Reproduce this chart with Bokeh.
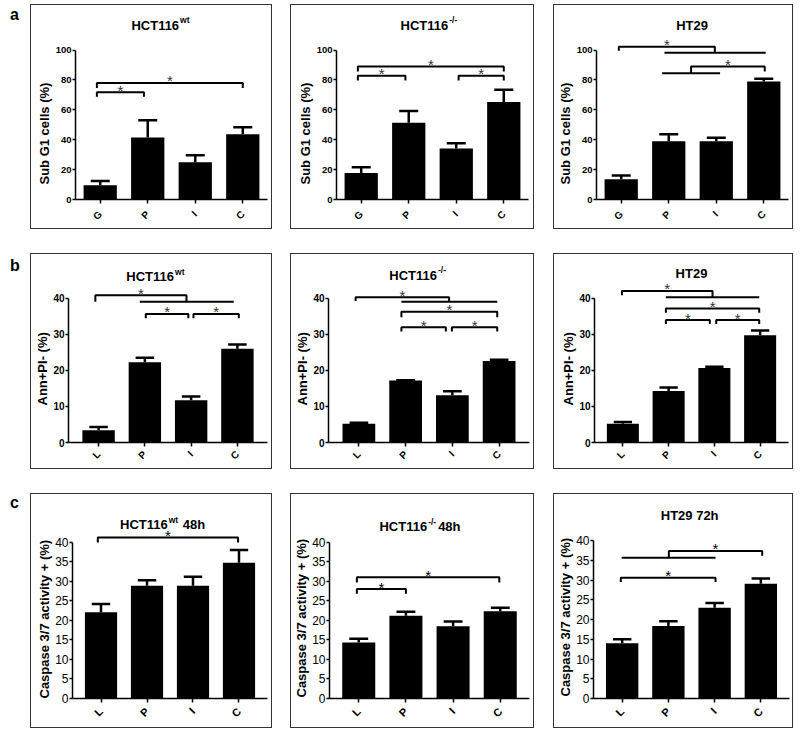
import math
from bokeh.plotting import figure
from bokeh.models import FactorRange, Range1d, FixedTicker, Div, Spacer, Title
from bokeh.layouts import row, column
from bokeh.embed import file_html
from bokeh.resources import INLINE
from bokeh.core.properties import value

# ---------------- data ----------------
groups_a = ["G", "P", "I", "C"]
groups_bc = ["L", "P", "I", "C"]

# row a: Sub G1 cells (%)
subg1_wt = [9.5, 41.5, 25.0, 43.7]
subg1_wt_err = [2.9, 11.5, 4.6, 4.6]
subg1_ko = [17.7, 51.4, 34.2, 65.3]
subg1_ko_err = [3.9, 7.8, 3.5, 8.2]
subg1_ht29 = [13.5, 38.9, 39.0, 79.0]
subg1_ht29_err = [2.6, 4.8, 2.3, 1.8]

# row b: Ann+PI- (%)
ann_wt = [3.4, 22.3, 11.7, 26.0]
ann_wt_err = [0.9, 1.2, 1.1, 1.2]
ann_ko = [5.2, 17.2, 13.1, 22.6]
ann_ko_err = [0.3, 0.1, 1.1, 0.4]
ann_ht29 = [5.2, 14.3, 20.7, 29.8]
ann_ht29_err = [0.5, 1.0, 0.3, 1.3]

# row c: Caspase 3/7 activity + (%)
casp_wt = [22.1, 28.9, 28.9, 34.8]
casp_wt_err = [2.1, 1.4, 2.3, 3.3]
casp_ko = [14.3, 21.2, 18.5, 22.3]
casp_ko_err = [1.0, 1.0, 1.2, 0.9]
casp_ht29 = [14.0, 18.4, 23.0, 29.1]
casp_ht29_err = [1.0, 1.2, 1.2, 1.3]

ticks_a = [0, 20, 40, 60, 80, 100]
ticks_b = [0, 10, 20, 30, 40]
ticks_c = [0, 5, 10, 15, 20, 25, 30, 35, 40]

label_a = "Sub G1 cells (%)"
label_b = "Ann+PI- (%)"
label_c = "Caspase 3/7 activity + (%)"

# significance brackets: (from, to, height, left drop, right drop, star)
# from / to in category units (category i is centred on i + 0.5)
sig_a_wt = [(0.43, 1.42, 71.7, 3.0, 3.0, True),
            (0.43, 3.50, 78.0, 3.4, 3.4, True)]
sig_a_ko = [(0.43, 1.43, 82.8, 3.1, 3.1, True),
            (2.55, 3.50, 82.8, 3.1, 3.1, True),
            (0.43, 3.50, 89.0, 3.4, 3.4, True)]
sig_a_ht29 = [(0.45, 2.47, 102.2, 2.6, 4.0, True),
              (1.41, 3.54, 98.2, 0.0, 0.0, False),
              (1.36, 2.58, 84.5, 0.0, 0.0, False),
              (1.97, 3.52, 89.0, 4.5, 3.4, True)]
sig_b_wt = [(0.43, 2.40, 40.9, 1.8, 1.8, True),
            (1.39, 3.42, 39.1, 0.0, 0.0, False),
            (1.52, 2.44, 35.7, 1.2, 1.2, True),
            (2.55, 3.53, 35.7, 1.2, 1.2, True)]
sig_b_ko = [(0.43, 2.43, 40.3, 1.0, 1.2, True),
            (1.41, 3.46, 39.1, 0.0, 0.0, False),
            (1.41, 3.46, 36.3, 1.5, 1.5, True),
            (1.41, 2.36, 32.0, 1.2, 1.2, True),
            (2.49, 3.46, 32.0, 1.2, 1.2, True)]
sig_b_ht29 = [(0.48, 2.46, 42.1, 1.2, 1.8, True),
              (1.44, 3.48, 40.3, 0.0, 0.0, False),
              (1.44, 3.48, 37.2, 1.2, 1.2, True),
              (1.44, 2.40, 34.0, 1.1, 1.1, True),
              (2.54, 3.48, 34.0, 1.1, 1.1, True)]
sig_c_wt = [(0.43, 3.48, 41.3, 1.3, 1.3, True)]
sig_c_ko = [(0.46, 1.50, 28.0, 1.2, 1.2, True),
            (0.46, 3.48, 31.0, 1.3, 1.3, True)]
sig_c_ht29 = [(0.49, 2.52, 35.7, 0.0, 0.0, False),
              (1.51, 3.53, 37.4, 1.7, 1.2, True),
              (0.47, 2.52, 30.6, 1.1, 1.1, True)]

# titles: (main, superscript, tail)
title_a_wt = ("HCT116", "wt", "")
title_a_ko = ("HCT116", "-/-", "")
title_a_ht29 = ("HT29", "", "")
title_c_wt = ("HCT116", "wt", "48h")
title_c_ko = ("HCT116", "-/-", "48h")
title_c_ht29 = ("HT29 72h", "", "")

# ---------------- layout / style ----------------
FONT = "Liberation Sans"

lay = {
    "a1": dict(w=240, h=223, l=44, r=4, b=27, ytop=129.8, pad=0.01, tx=2.16, ty=116.6, tail=0, loff=15),
    "a2": dict(w=242, h=223, l=45, r=5, b=27, ytop=129.8, pad=0.01, tx=2.33, ty=116.6, tail=0, loff=15),
    "a3": dict(w=238, h=223, l=42, r=4, b=27, ytop=129.8, pad=0.01, tx=1.99, ty=116.6, tail=0, loff=15),
    "b1": dict(w=240, h=214, l=37, r=4, b=25, ytop=52.2, pad=0.075, tx=2.13, ty=46.0, tail=0, loff=37),
    "b2": dict(w=242, h=214, l=37, r=4, b=25, ytop=52.2, pad=0.075, tx=2.17, ty=46.5, tail=0, loff=37),
    "b3": dict(w=238, h=214, l=40, r=4, b=25, ytop=52.2, pad=0.06, tx=2.00, ty=46.9, tail=0, loff=37),
    "c1": dict(w=240, h=233, l=41, r=4, b=27, ytop=52.3, pad=0.06, tx=1.95, ty=44.6, tail=15, loff=0),
    "c2": dict(w=242, h=233, l=38, r=4, b=28, ytop=52.2, pad=0.06, tx=1.95, ty=43.9, tail=11, loff=1),
    "c3": dict(w=238, h=233, l=39, r=3, b=29, ytop=51.7, pad=0.06, tx=1.96, ty=46.4, tail=0, loff=2),
}

sty = {
    "a": dict(tick="9.5px", tick_w="bold", lab="13px", lab_w="bold", cat="10px", cat_off=9,
              star="15px", star_c="#333333"),
    "b": dict(tick="10px", tick_w="bold", lab="13px", lab_w="bold", cat="10px", cat_off=6,
              star="15px", star_c="#333333"),
    "c": dict(tick="12px", tick_w="normal", lab="13px", lab_w="bold", cat="11px", cat_off=7,
              star="15px", star_c="#000000"),
}


def make_panel(cats, vals, errs, sig, ticks, ylabel, title, L, S):
    p = figure(width=L["w"], height=L["h"],
               x_range=FactorRange(factors=cats, range_padding=2 * L["pad"],
                                   range_padding_units="absolute"),
               y_range=Range1d(0, L["ytop"]),
               toolbar_location=None, output_backend="svg", title=None,
               min_border_left=L["l"], min_border_right=L["r"],
               min_border_top=0, min_border_bottom=L["b"],
               background_fill_color="white", border_fill_color="white")
    p.outline_line_color = None
    p.xgrid.visible = False
    p.ygrid.visible = False
    p.margin = (0, 0, 0, 0)
    p.styles = {"outline": "1.5px solid #333333"}

    centers = [i + 0.5 for i in range(len(cats))]
    tops = [v + e for v, e in zip(vals, errs)]

    # bars
    p.vbar(x=cats, top=vals, width=0.7, fill_color="black", line_color=None)
    # error bars (upper only)
    p.segment(x0=cats, y0=vals, x1=cats, y1=tops, line_color="black", line_width=2.5)
    p.segment(x0=[c - 0.2 for c in centers], y0=tops, x1=[c + 0.2 for c in centers], y1=tops,
              line_color="black", line_width=2.5)

    # significance brackets
    xs, ys, sx, sy = [], [], [], []
    for (x0, x1, y, d0, d1, star) in sig:
        xs.append([x0, x0, x1, x1])
        ys.append([y - d0, y, y, y - d1])
        if star:
            sx.append((x0 + x1) / 2)
            sy.append(y)
    p.multi_line(xs=xs, ys=ys, line_color="black", line_width=2)
    if sx:
        p.text(x=sx, y=sy, text=["*"] * len(sx), text_font=value(FONT), text_font_size=S["star"],
               text_font_style="normal", text_color=S["star_c"], text_align="center",
               text_baseline="alphabetic", y_offset=-2)

    # title (with superscript)
    main, sup, tail = title
    if sup:
        p.text(x=[L["tx"]], y=[L["ty"]], text=[main], text_font=value(FONT), text_font_size="13px",
               text_font_style="bold", text_align="right", text_baseline="middle", text_color="black")
        p.text(x=[L["tx"]], y=[L["ty"]], text=[sup], text_font=value(FONT), text_font_size="8.5px",
               text_font_style="bold", text_align="left", text_baseline="middle", text_color="black",
               x_offset=1, y_offset=-5)
        if tail:
            p.text(x=[L["tx"]], y=[L["ty"]], text=[tail], text_font=value(FONT), text_font_size="13px",
                   text_font_style="bold", text_align="left", text_baseline="middle", text_color="black",
                   x_offset=L["tail"])
    else:
        p.text(x=[L["tx"]], y=[L["ty"]], text=[main], text_font=value(FONT), text_font_size="13px",
               text_font_style="bold", text_align="center", text_baseline="middle", text_color="black")

    # axes
    yax = p.yaxis[0]
    yax.ticker = FixedTicker(ticks=ticks)
    yax.bounds = (0, ticks[-1])
    yax.major_label_text_font = FONT
    yax.major_label_text_font_size = S["tick"]
    yax.major_label_text_font_style = S["tick_w"]
    yax.major_label_text_color = "black"
    yax.major_label_standoff = 1
    yax.major_tick_out = 3
    yax.major_tick_in = 0
    yax.minor_tick_line_color = None
    yax.axis_line_width = 1.5
    yax.major_tick_line_width = 1.5
    yax.axis_line_color = "black"
    yax.major_tick_line_color = "black"

    # y axis title: left-side title starting a set distance above the frame bottom
    p.add_layout(Title(text=ylabel, align="left", offset=L["loff"], standoff=1,
                       text_font=FONT, text_font_size=S["lab"], text_font_style=S["lab_w"],
                       text_color="black"), "left")

    xax = p.xaxis[0]
    xax.major_label_orientation = math.pi / 4
    xax.major_label_text_font = FONT
    xax.major_label_text_font_size = S["cat"]
    xax.major_label_text_font_style = "bold"
    xax.major_label_text_color = "black"
    xax.major_label_standoff = S["cat_off"]
    xax.major_tick_out = 4
    xax.major_tick_in = 0
    xax.axis_line_width = 1.5
    xax.major_tick_line_width = 1.5
    xax.axis_line_color = "black"
    xax.major_tick_line_color = "black"
    return p


pa1 = make_panel(groups_a, subg1_wt, subg1_wt_err, sig_a_wt, ticks_a, label_a, title_a_wt, lay["a1"], sty["a"])
pa2 = make_panel(groups_a, subg1_ko, subg1_ko_err, sig_a_ko, ticks_a, label_a, title_a_ko, lay["a2"], sty["a"])
pa3 = make_panel(groups_a, subg1_ht29, subg1_ht29_err, sig_a_ht29, ticks_a, label_a, title_a_ht29, lay["a3"], sty["a"])
pb1 = make_panel(groups_bc, ann_wt, ann_wt_err, sig_b_wt, ticks_b, label_b, title_a_wt, lay["b1"], sty["b"])
pb2 = make_panel(groups_bc, ann_ko, ann_ko_err, sig_b_ko, ticks_b, label_b, title_a_ko, lay["b2"], sty["b"])
pb3 = make_panel(groups_bc, ann_ht29, ann_ht29_err, sig_b_ht29, ticks_b, label_b, title_a_ht29, lay["b3"], sty["b"])
pc1 = make_panel(groups_bc, casp_wt, casp_wt_err, sig_c_wt, ticks_c, label_c, title_c_wt, lay["c1"], sty["c"])
pc2 = make_panel(groups_bc, casp_ko, casp_ko_err, sig_c_ko, ticks_c, label_c, title_c_ko, lay["c2"], sty["c"])
pc3 = make_panel(groups_bc, casp_ht29, casp_ht29_err, sig_c_ht29, ticks_c, label_c, title_c_ht29, lay["c3"], sty["c"])


def letter(t, h, top):
    return Div(text=t, width=31, height=h, margin=(0, 0, 0, 0),
               styles={"font-family": "Liberation Sans, Arial, sans-serif", "font-size": "16px",
                       "font-weight": "bold", "padding-left": "10px", "padding-top": top,
                       "line-height": "1", "color": "black", "box-sizing": "border-box"})


def gap_w(w):
    return Spacer(width=w, height=10, margin=(0, 0, 0, 0))


def gap_h(h):
    return Spacer(width=10, height=h, margin=(0, 0, 0, 0))


row_a = row(letter("a", 223, "2px"), pa1, gap_w(20), pa2, gap_w(21), pa3, spacing=0, margin=(0, 0, 0, 0))
row_b = row(letter("b", 214, "4px"), pb1, gap_w(20), pb2, gap_w(21), pb3, spacing=0, margin=(0, 0, 0, 0))
row_c = row(letter("c", 233, "1px"), pc1, gap_w(20), pc2, gap_w(21), pc3, spacing=0, margin=(0, 0, 0, 0))
page = column(row_a, gap_h(26), row_b, gap_h(26), row_c, spacing=0, margin=(5, 0, 0, 0))

open("out.html", "w").write(file_html(page, INLINE))
